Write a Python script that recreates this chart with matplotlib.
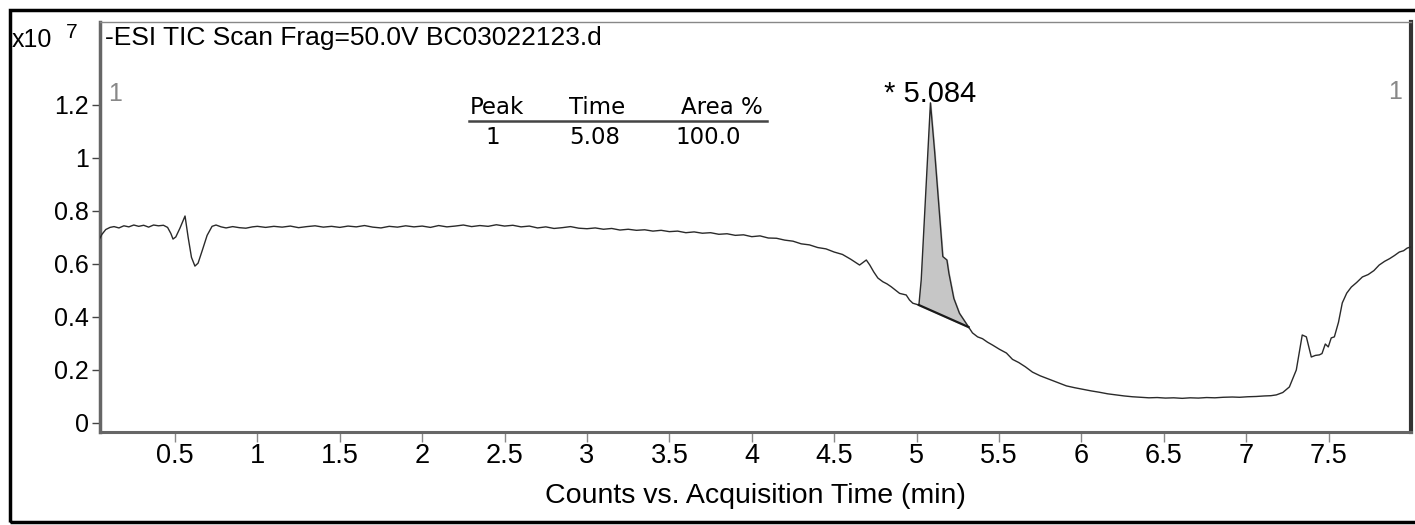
import matplotlib.pyplot as plt
import numpy as np
from matplotlib.patches import Rectangle

# TIC trace, counts in units of 1e7 (rows kept aligned between the two lists)
time_min = [
    0.045, 0.057, 0.08, 0.106, 0.13, 0.16, 0.19, 0.22, 0.25, 0.28,
    0.31, 0.34, 0.37, 0.40, 0.43, 0.455, 0.475, 0.488, 0.505, 0.53,
    0.561, 0.58, 0.60, 0.621, 0.64, 0.665, 0.695, 0.725, 0.749,
    0.78, 0.81, 0.85, 0.89, 0.93, 0.97, 1.00, 1.05, 1.10, 1.15,
    1.20, 1.25, 1.30, 1.35, 1.40, 1.45, 1.50, 1.55, 1.60, 1.65,
    1.70, 1.75, 1.80, 1.85, 1.90, 1.95, 2.00, 2.05, 2.10, 2.15,
    2.20, 2.25, 2.30, 2.35, 2.40, 2.45, 2.50, 2.55, 2.60, 2.65,
    2.70, 2.75, 2.80, 2.85, 2.90, 2.95, 3.00, 3.05, 3.10, 3.15,
    3.20, 3.25, 3.30, 3.35, 3.40, 3.45, 3.50, 3.55, 3.60, 3.65,
    3.70, 3.75, 3.80, 3.85, 3.90, 3.95, 4.00, 4.05, 4.10, 4.15,
    4.20, 4.25, 4.30, 4.35, 4.40, 4.45, 4.50, 4.55, 4.60, 4.654,
    4.695, 4.716, 4.74, 4.765, 4.795, 4.82, 4.846, 4.87, 4.897, 4.937,
    4.957, 4.977, 5.014, 5.028, 5.05, 5.066, 5.084, 5.11, 5.129, 5.159,
    5.184, 5.196, 5.226, 5.26, 5.315, 5.339, 5.37, 5.40, 5.43, 5.461,
    5.503, 5.545,
    5.582, 5.62, 5.66, 5.703, 5.75, 5.80, 5.85, 5.909, 5.96, 6.01,
    6.06, 6.109, 6.16, 6.21, 6.26, 6.309, 6.36, 6.41, 6.46, 6.51,
    6.56, 6.612, 6.66, 6.71, 6.76, 6.81, 6.86, 6.916, 6.96, 7.01,
    7.06, 7.11, 7.15, 7.183, 7.222, 7.262, 7.304, 7.34, 7.365, 7.395,
    7.42, 7.444, 7.46, 7.48, 7.498, 7.516, 7.535, 7.56, 7.583, 7.61,
    7.638, 7.67, 7.705, 7.74, 7.775, 7.807, 7.84, 7.87, 7.90, 7.929,
    7.955, 7.977, 7.997,
]
counts = [
    0.698, 0.712, 0.730, 0.738, 0.741, 0.736, 0.744, 0.740, 0.747, 0.742,
    0.746, 0.739, 0.747, 0.744, 0.746, 0.738, 0.715, 0.694, 0.702, 0.735,
    0.781, 0.700, 0.625, 0.592, 0.603, 0.650, 0.708, 0.742, 0.747,
    0.740, 0.736, 0.741, 0.737, 0.735, 0.740, 0.742, 0.738, 0.742, 0.739,
    0.743, 0.737, 0.741, 0.744, 0.739, 0.742, 0.738, 0.743, 0.740, 0.745,
    0.739, 0.736, 0.742, 0.739, 0.744, 0.740, 0.743, 0.738, 0.745, 0.740,
    0.743, 0.747, 0.741, 0.745, 0.742, 0.748, 0.743, 0.746, 0.740, 0.743,
    0.736, 0.740, 0.734, 0.737, 0.741, 0.735, 0.733, 0.736, 0.731, 0.734,
    0.728, 0.731, 0.727, 0.729, 0.724, 0.727, 0.722, 0.724, 0.718, 0.721,
    0.716, 0.718, 0.712, 0.714, 0.708, 0.710, 0.703, 0.706, 0.698, 0.697,
    0.690, 0.686, 0.676, 0.672, 0.662, 0.657, 0.645, 0.636, 0.618, 0.596,
    0.615, 0.596, 0.570, 0.547, 0.533, 0.525, 0.514, 0.502, 0.489, 0.483,
    0.464, 0.452, 0.445, 0.540, 0.800, 0.990, 1.208, 1.020, 0.867, 0.628,
    0.615, 0.565, 0.470, 0.414, 0.362, 0.340, 0.325, 0.318, 0.305, 0.294,
    0.278, 0.264,
    0.240, 0.228, 0.212, 0.192, 0.178, 0.166, 0.154, 0.140, 0.133, 0.127,
    0.121, 0.116, 0.110, 0.106, 0.102, 0.099, 0.097, 0.095, 0.096, 0.094,
    0.095, 0.093, 0.095, 0.094, 0.096, 0.095, 0.097, 0.098, 0.097, 0.099,
    0.100, 0.102, 0.103, 0.106, 0.115, 0.136, 0.200, 0.332, 0.325, 0.249,
    0.255, 0.257, 0.262, 0.298, 0.287, 0.321, 0.325, 0.380, 0.453, 0.490,
    0.513, 0.530, 0.551, 0.560, 0.575, 0.596, 0.610, 0.620, 0.632, 0.645,
    0.650, 0.660, 0.664,
]

# integrated peak
peak_rt = 5.084
peak_start = 5.014
peak_end = 5.315
table_header = ["Peak", "Time", "Area %"]
table_row = ["1", "5.08", "100.0"]

t = np.array(time_min)
y = np.array(counts)

fig = plt.figure(figsize=(14.15, 5.25), dpi=100)
ax = fig.add_axes([100 / 1415, 1 - 432 / 525, 1311 / 1415, 410 / 525])

ax.plot(t, y, color="#2a2a2a", lw=1.0, zorder=3)

# shaded peak between curve and drawn baseline
mask = (t >= peak_start) & (t <= peak_end)
y0 = np.interp(peak_start, t, y)
y1 = np.interp(peak_end, t, y)
base = y0 + (t[mask] - peak_start) * (y1 - y0) / (peak_end - peak_start)
ax.fill_between(t[mask], base, y[mask], color="#c6c6c6", zorder=2)
ax.plot([peak_start, peak_end], [y0, y1], color="#1a1a1a", lw=1.6, zorder=4)

ax.set_xlim(0.045, 8.0)
ax.set_ylim(-0.034, 1.513)
ax.set_xticks(np.arange(0.5, 8.0, 0.5))
ax.set_xticklabels(["0.5", "1", "1.5", "2", "2.5", "3", "3.5", "4", "4.5", "5",
                    "5.5", "6", "6.5", "7", "7.5"])
ax.set_yticks([0, 0.2, 0.4, 0.6, 0.8, 1.0, 1.2])
ax.set_yticklabels(["0", "0.2", "0.4", "0.6", "0.8", "1", "1.2"])
ax.tick_params(axis="x", direction="out", length=7, width=1, color="#888888",
               labelsize=19.5, pad=1)
ax.tick_params(axis="y", direction="out", length=6, width=1, color="#444444",
               labelsize=18, pad=2)
for lab in ax.get_xticklabels() + ax.get_yticklabels():
    lab.set_family("Liberation Sans")

ax.spines["top"].set_color("#888888")
ax.spines["top"].set_linewidth(1)
ax.spines["left"].set_color("#666666")
ax.spines["left"].set_linewidth(2.5)
ax.spines["bottom"].set_color("#666666")
ax.spines["bottom"].set_linewidth(2.2)
ax.spines["right"].set_color("#333333")
ax.spines["right"].set_linewidth(3)

ax.set_xlabel("Counts vs. Acquisition Time (min)", fontsize=20.5,
              family="Liberation Sans", labelpad=10)

# texts inside the plot
ax.text(0.0035, 0.99, "-ESI TIC Scan Frag=50.0V BC03022123.d", transform=ax.transAxes,
        ha="left", va="top", fontsize=19, family="Liberation Sans")
ax.text(0.0115, 0.824, "1", transform=ax.transAxes, ha="center", va="center",
        fontsize=18, color="#888888", family="Liberation Sans")
ax.text(0.988, 0.829, "1", transform=ax.transAxes, ha="center", va="center",
        fontsize=18, color="#888888", family="Liberation Sans")
ax.text(peak_rt, 1.213, "* " + f"{peak_rt:.3f}", ha="center", va="baseline", fontsize=21,
        family="Liberation Sans")

# peak table
hx = [497, 597, 722]
for x, s in zip(hx, table_header):
    fig.text(x / 1415, 1 - 108 / 525, s, ha="center", va="center", fontsize=16.5,
             family="DejaVu Sans")
rx = [493, 595, 708]
for x, s in zip(rx, table_row):
    fig.text(x / 1415, 1 - 138 / 525, s, ha="center", va="center", fontsize=16.5,
             family="DejaVu Sans")
fig.add_artist(plt.Line2D([469 / 1415, 767 / 1415], [1 - 121 / 525, 1 - 121 / 525],
                          color="#444444", lw=1.8))

# y multiplier
fig.text(12 / 1415, 1 - 40 / 525, "x10", ha="left", va="center", fontsize=18,
         family="Liberation Sans")
fig.text(66 / 1415, 1 - 33 / 525, "7", ha="left", va="center", fontsize=15,
         family="Liberation Sans")

# outer frame, right edge falls outside the image
fig.add_artist(Rectangle((10 / 1415, 3 / 525), 1.05, 512 / 525, transform=fig.transFigure,
                         fill=False, ec="black", lw=2.5))

fig.savefig("out.png", dpi=100)
